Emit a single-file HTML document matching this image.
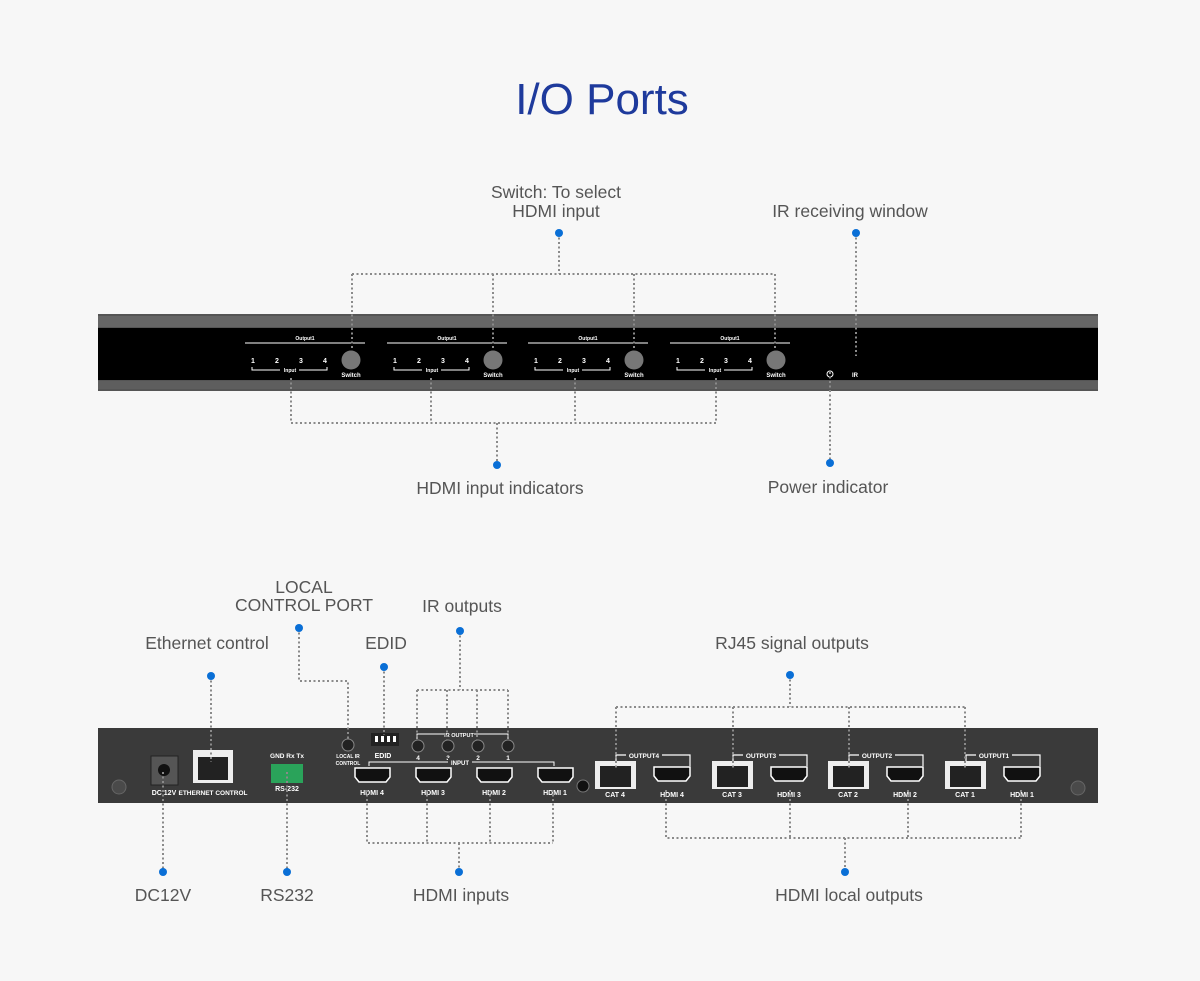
<!DOCTYPE html>
<html><head><meta charset="utf-8"><style>
html,body{margin:0;padding:0;background:#f7f7f7;}
svg{display:block}
.lbl{font-family:"Liberation Sans",sans-serif;font-size:17.5px;fill:#555;text-anchor:middle}
.d{stroke:#8a8a8a;stroke-width:2;stroke-dasharray:2,2.5;fill:none}
.w{font-family:"Liberation Sans",sans-serif;fill:#fff;font-weight:bold;text-anchor:middle}
</style></head><body>
<svg width="1200" height="981" viewBox="0 0 1200 981" xmlns="http://www.w3.org/2000/svg">
<defs>
<g id="og">
<path d="M616 761v-6h74v11" stroke="#fff" fill="none" stroke-width="1.2"/>
<rect x="626" y="751" width="36" height="8" fill="#3a3a3a"/>
<rect x="595" y="761" width="41" height="28" fill="#eee"/>
<rect x="600" y="766" width="31" height="21" fill="#222"/>
<path d="M654 767h36v9l-4 5h-28l-4-5z" fill="#111" stroke="#fff" stroke-width="1.5"/>
</g>
</defs>
<rect width="1200" height="981" fill="#f7f7f7"/>
<text x="602" y="114" font-family="Liberation Sans,sans-serif" font-size="44" fill="#1e3a9c" text-anchor="middle">I/O Ports</text>

<!-- front panel -->
<rect x="98" y="314" width="1000" height="77" fill="#555"/>
<rect x="98" y="316" width="1000" height="11" fill="#666"/>
<rect x="98" y="328" width="1000" height="52" fill="#000"/>
<rect x="98" y="381" width="1000" height="8" fill="#5e5e5e"/>
<g id="grp">
<text x="305" y="340" class="w" font-size="5">Output1</text>
<line x1="245" y1="343" x2="365" y2="343" stroke="#fff" stroke-width="1"/>
<g class="w" font-size="7"><text x="253" y="363">1</text><text x="277" y="363">2</text><text x="301" y="363">3</text><text x="325" y="363">4</text></g>
<path d="M252 367v3h28M299 370h28v-3" stroke="#fff" stroke-width="1" fill="none"/>
<text x="290" y="372" class="w" font-size="5">Input</text>
<circle cx="351" cy="360" r="9.5" fill="#777"/>
<text x="351" y="377" class="w" font-size="6">Switch</text>
</g>
<use href="#grp" x="142"/><use href="#grp" x="283"/><use href="#grp" x="425"/>
<circle cx="830" cy="374" r="3" stroke="#fff" stroke-width="1" fill="none"/>
<text x="855" y="377" class="w" font-size="6">IR</text>

<path class="d" d="M559 233V274M352 274H775M352 274V350M493 274V350M634 274V350M775 274V350"/>
<path class="d" d="M856 233V356"/>
<path class="d" d="M291 378V423H716M431 378V423M575 378V423M716 378V423M497 423V465"/>
<path class="d" d="M830 372V463"/>
<g fill="#0a6fd6"><circle cx="559" cy="233" r="4"/><circle cx="856" cy="233" r="4"/><circle cx="497" cy="465" r="4"/><circle cx="830" cy="463" r="4"/></g>
<text x="556" y="198" class="lbl">Switch: To select</text>
<text x="556" y="217" class="lbl">HDMI input</text>
<text x="850" y="217" class="lbl">IR receiving window</text>
<text x="500" y="494" class="lbl">HDMI input indicators</text>
<text x="828" y="493" class="lbl">Power indicator</text>

<!-- rear panel -->
<rect x="98" y="728" width="1000" height="75" fill="#3a3a3a"/>
<circle cx="119" cy="787" r="7" fill="#4a4a4a" stroke="#666"/>
<circle cx="1078" cy="788" r="7" fill="#4a4a4a" stroke="#666"/>
<circle cx="583" cy="786" r="6" fill="#111" stroke="#777"/>
<rect x="151" y="756" width="27" height="29" fill="#555" stroke="#222"/>
<circle cx="164" cy="770" r="6" fill="#111"/>
<text x="164" y="795" class="w" font-size="7">DC 12V</text>
<rect x="193" y="750" width="40" height="33" fill="#eee"/>
<rect x="198" y="757" width="30" height="23" fill="#222"/>
<text x="213" y="795" class="w" font-size="6.5">ETHERNET CONTROL</text>
<text x="287" y="758" class="w" font-size="6.5">GND Rx Tx</text>
<rect x="271" y="764" width="32" height="19" fill="#2aa35a"/>
<text x="287" y="791" class="w" font-size="7">RS-232</text>
<circle cx="348" cy="745" r="6" fill="#222" stroke="#888"/>
<text x="348" y="758" class="w" font-size="5">LOCAL IR</text><text x="348" y="765" class="w" font-size="5">CONTROL</text>
<rect x="371" y="733" width="28" height="13" fill="#222"/>
<g fill="#fff"><rect x="375" y="736" width="3" height="6"/><rect x="381" y="736" width="3" height="6"/><rect x="387" y="736" width="3" height="6"/><rect x="393" y="736" width="3" height="6"/></g>
<text x="383" y="758" class="w" font-size="7">EDID</text>
<path d="M417 739V734H508V739" stroke="#fff" fill="none"/>
<rect x="444" y="731" width="30" height="6" fill="#3a3a3a"/>
<text x="459" y="737" class="w" font-size="5.5">IR OUTPUT</text>
<g fill="#222" stroke="#888"><circle cx="418" cy="746" r="6"/><circle cx="448" cy="746" r="6"/><circle cx="478" cy="746" r="6"/><circle cx="508" cy="746" r="6"/></g>
<g class="w" font-size="6.5"><text x="418" y="760">4</text><text x="448" y="760">3</text><text x="478" y="760">2</text><text x="508" y="760">1</text></g>
<path d="M369 766V762H554V766" stroke="#fff" fill="none"/>
<rect x="448" y="758" width="24" height="7" fill="#3a3a3a"/>
<text x="460" y="765" class="w" font-size="6">INPUT</text>
<g id="hp"><path d="M355 768h35v9l-4 5h-27l-4-5z" fill="#111" stroke="#fff" stroke-width="1.5"/></g>
<use href="#hp" x="61"/><use href="#hp" x="122"/><use href="#hp" x="183"/>
<g class="w" font-size="7"><text x="372" y="795">HDMI 4</text><text x="433" y="795">HDMI 3</text><text x="494" y="795">HDMI 2</text><text x="555" y="795">HDMI 1</text></g>

<use href="#og"/><use href="#og" x="117"/><use href="#og" x="233"/><use href="#og" x="350"/>
<g class="w" font-size="6.5">
<text x="644" y="758">OUTPUT4</text><text x="761" y="758">OUTPUT3</text><text x="877" y="758">OUTPUT2</text><text x="994" y="758">OUTPUT1</text>
</g>
<g class="w" font-size="7">
<text x="615" y="797">CAT 4</text><text x="672" y="797">HDMI 4</text>
<text x="732" y="797">CAT 3</text><text x="789" y="797">HDMI 3</text>
<text x="848" y="797">CAT 2</text><text x="905" y="797">HDMI 2</text>
<text x="965" y="797">CAT 1</text><text x="1022" y="797">HDMI 1</text>
</g>

<!-- rear connectors -->
<path class="d" d="M211 676V762"/>
<path class="d" d="M299 628V681H348V740"/>
<path class="d" d="M384 667V735"/>
<path class="d" d="M460 631V690M417 690H508M417 690V740M447 690V740M477 690V740M508 690V740"/>
<path class="d" d="M790 675V707M616 707H965M616 707V768M733 707V768M849 707V768M965 707V768"/>
<path class="d" d="M163 772V872"/>
<path class="d" d="M287 772V872"/>
<path class="d" d="M367 790V843H553M427 790V843M490 790V843M553 790V843M459 843V872"/>
<path class="d" d="M666 790V838H1021M790 790V838M908 790V838M1021 790V838M845 838V872"/>
<g fill="#0a6fd6"><circle cx="211" cy="676" r="4"/><circle cx="299" cy="628" r="4"/><circle cx="384" cy="667" r="4"/><circle cx="460" cy="631" r="4"/><circle cx="790" cy="675" r="4"/><circle cx="163" cy="872" r="4"/><circle cx="287" cy="872" r="4"/><circle cx="459" cy="872" r="4"/><circle cx="845" cy="872" r="4"/></g>
<text x="207" y="649" class="lbl">Ethernet control</text>
<text x="304" y="593" class="lbl">LOCAL</text>
<text x="304" y="611" class="lbl">CONTROL PORT</text>
<text x="386" y="649" class="lbl">EDID</text>
<text x="462" y="612" class="lbl">IR outputs</text>
<text x="792" y="649" class="lbl">RJ45 signal outputs</text>
<text x="163" y="901" class="lbl">DC12V</text>
<text x="287" y="901" class="lbl">RS232</text>
<text x="461" y="901" class="lbl">HDMI inputs</text>
<text x="849" y="901" class="lbl">HDMI local outputs</text>
</svg>
</body></html>
